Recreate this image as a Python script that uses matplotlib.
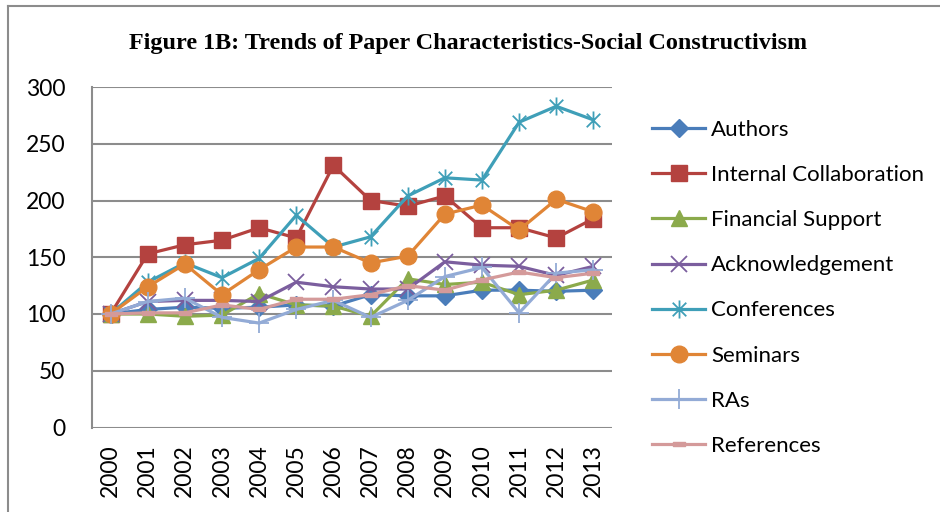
"""Figure 1B: trends of paper characteristics, social constructivism."""
import numpy as np
import matplotlib
matplotlib.use('Agg')
import matplotlib.pyplot as plt
from matplotlib.path import Path
from matplotlib.lines import Line2D

years = [str(y) for y in range(2000, 2014)]

authors = [100, 104, 106, 105, 106, 108, 107, 117, 116, 116, 121, 121, 120, 121]
internal_collab = [100, 153, 161, 165, 176, 167, 231, 200, 195, 204, 176, 176, 167, 184]
financial_support = [100, 100, 98, 99, 118, 108, 107, 98, 131, 126, 128, 117, 121, 130]
acknowledgement = [100, 111, 112, 112, 111, 128, 124, 122, 122, 146, 143, 142, 134, 142]
conferences = [100, 128, 145, 132, 149, 187, 159, 168, 204, 220, 218, 269, 283, 271]
seminars = [100, 124, 144, 117, 139, 159, 159, 145, 151, 188, 196, 174, 201, 190]
ras = [100, 111, 114, 97, 92, 104, 112, 97, 112, 133, 141, 101, 136, 139]
references = [100, 101, 101, 108, 104, 113, 113, 117, 125, 121, 130, 137, 132, 136]

labels = ['Authors', 'Internal Collaboration', 'Financial Support', 'Acknowledgement',
          'Conferences', 'Seminars', 'RAs', 'References']

# excel style asterisk: vertical bar plus an x
asterisk = Path([(0, -1), (0, 1), (-0.75, -0.75), (0.75, 0.75), (-0.75, 0.75), (0.75, -0.75)],
                [Path.MOVETO, Path.LINETO, Path.MOVETO, Path.LINETO, Path.MOVETO, Path.LINETO])
dash = Path([(-1, -0.3), (1, -0.3), (1, 0.3), (-1, 0.3), (-1, -0.3)],
            [Path.MOVETO, Path.LINETO, Path.LINETO, Path.LINETO, Path.CLOSEPOLY])

styles = [
    dict(color='#4A7DBA', marker='D', ms=9),
    dict(color='#B4423F', marker='s', ms=11),
    dict(color='#8BAA4B', marker='^', ms=12),
    dict(color='#7B5E9E', marker='x', ms=11, mew=1.3),
    dict(color='#3F9FB8', marker=asterisk, ms=13, mew=1.3),
    dict(color='#E08536', marker='o', ms=12),
    dict(color='#93ABD6', marker='+', ms=14, mew=1.3),
    dict(color='#D49A9A', marker=dash, ms=9),
]

plt.rcParams['font.family'] = ['Lato', 'DejaVu Sans']

fig = plt.figure(figsize=(9.4, 5.12), dpi=100)
ax = fig.add_axes([92 / 940, 1 - 427.5 / 512, 520 / 940, 340.5 / 512])

series = [authors, internal_collab, financial_support, acknowledgement,
          conferences, seminars, ras, references]
x = np.arange(len(years))
handles = []
for vals, lab, st in zip(series, labels, styles):
    st = dict(st)
    color = st.pop('color')
    line, = ax.plot(x, vals, color=color, lw=2.3, mfc=color, mec=color,
                    label=lab, zorder=3, **st)
    handles.append(line)

ax.set_xlim(-0.5, len(years) - 0.5)
ax.set_ylim(0, 300)
ax.set_yticks(range(0, 301, 50))
ax.set_xticks(x)
ax.set_xticklabels(years, rotation=90)
ax.tick_params(axis='y', length=0, pad=19, labelsize=16.5)
ax.tick_params(axis='x', length=0, pad=12, labelsize=16.5)
ax.grid(True, axis='y', color='#8C8C8C', lw=1.5, zorder=0)
for side in ['top', 'right', 'bottom']:
    ax.spines[side].set_visible(False)
ax.spines['left'].set_color('#8C8C8C')
ax.spines['left'].set_linewidth(1.5)

fig.legend(handles=handles, loc='upper left', bbox_to_anchor=(652 / 940, 1 - 120 / 512),
           frameon=False, fontsize=16, handlelength=2.4, handletextpad=0.25,
           labelspacing=1.13, borderaxespad=0, borderpad=0)

fig.text(0.498, 1 - 43 / 512,
         'Figure 1B: Trends of Paper Characteristics-Social Constructivism',
         ha='center', va='center', fontsize=17.4, fontweight='bold',
         family=['Liberation Serif', 'DejaVu Serif'])

# outer chart border (left and top edges visible)
fig.add_artist(Line2D([8 / 940, 8 / 940], [0, 1 - 6 / 512], color='#8C8C8C', lw=1.5))
fig.add_artist(Line2D([8 / 940, 1], [1 - 6 / 512, 1 - 6 / 512], color='#8C8C8C', lw=1.5))

fig.savefig('out.png', dpi=100)
